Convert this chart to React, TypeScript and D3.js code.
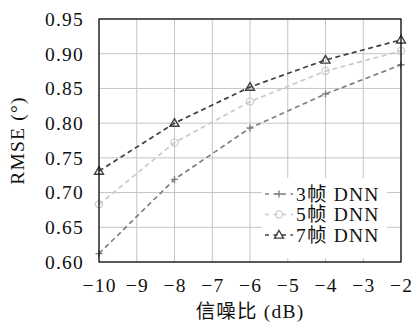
import React from 'react';
import * as d3 from 'd3';

// chart values
const snr = [-10, -8, -6, -4, -2];
const frames3 = [0.612, 0.719, 0.793, 0.842, 0.884];
const frames5 = [0.683, 0.772, 0.831, 0.875, 0.904];
const frames7 = [0.731, 0.800, 0.852, 0.891, 0.920];
const xTicks = [-10, -9, -8, -7, -6, -5, -4, -3, -2];
const yTicks = [0.6, 0.65, 0.7, 0.75, 0.8, 0.85, 0.9, 0.95];
const seriesNames = ['3帧 DNN', '5帧 DNN', '7帧 DNN'];

const serif = '"Liberation Serif", "Noto Sans CJK SC", serif';
const fontSize = 19.5;
const spacing = 1.2;

const series = [
  {name: seriesNames[0], values: frames3, color: '#808080', mark: 'plus'},
  {name: seriesNames[1], values: frames5, color: '#cacaca', mark: 'circle'},
  {name: seriesNames[2], values: frames7, color: '#404040', mark: 'triangle'},
];

function Marker({mark, x, y, color}) {
  if (mark === 'plus') {
    return (
      <path d={`M${x - 3.5},${y}H${x + 3.5}M${x},${y - 3.5}V${y + 3.5}`} stroke={color} strokeWidth={1.4} fill="none" />
    );
  }
  if (mark === 'circle') {
    return <circle cx={x} cy={y} r={3.6} stroke={color} strokeWidth={1.2} fill="none" />;
  }
  const s = 4.5;
  return (
    <path
      d={`M${x},${y - s}L${x + s},${y + s * 0.7}L${x - s},${y + s * 0.7}Z`}
      stroke={color}
      strokeWidth={1.4}
      fill="none"
    />
  );
}

export default function App() {
  const width = 412;
  const height = 327;
  const margin = {top: 19, right: 11, bottom: 65, left: 99};
  const innerW = width - margin.left - margin.right;
  const innerH = height - margin.top - margin.bottom;

  const x = d3.scaleLinear().domain([-10, -2]).range([0, innerW]);
  const y = d3.scaleLinear().domain([0.6, 0.95]).range([innerH, 0]);

  const line = d3
    .line<number>()
    .x((_, i) => x(snr[i]))
    .y((d) => y(d));

  const legendX = 163;
  const legendY = 159;

  return (
    <svg width={width} height={height} style={{position: 'absolute', left: 0, top: 0, background: '#fff'}}>
      <g transform={`translate(${margin.left},${margin.top})`}>
        {/* grid */}
        {xTicks.map((t) => (
          <line key={'gx' + t} x1={x(t)} x2={x(t)} y1={0} y2={innerH} stroke="#c4c4c4" strokeWidth={1} />
        ))}
        {yTicks.map((t) => (
          <line key={'gy' + t} x1={0} x2={innerW} y1={y(t)} y2={y(t)} stroke="#c4c4c4" strokeWidth={1} />
        ))}

        {/* legend background */}
        <rect x={legendX} y={legendY} width={125} height={80} fill="#fff" />

        {/* series */}
        {series.map((s) => (
          <g key={s.name}>
            <path d={line(s.values) || ''} fill="none" stroke={s.color} strokeWidth={1.7} strokeDasharray="5,3.5" />
            {s.values.map((v, i) => (
              <Marker key={i} mark={s.mark} x={x(snr[i])} y={y(v)} color={s.color} />
            ))}
          </g>
        ))}

        {/* frame */}
        <rect x={0} y={0} width={innerW} height={innerH} fill="none" stroke="#000" strokeWidth={1.2} />

        {/* tick labels */}
        {yTicks.map((t) => (
          <text
            key={'ly' + t}
            x={-15}
            y={y(t)}
            dy="0.35em"
            textAnchor="end"
            fontFamily={serif}
            fontSize={fontSize}
            letterSpacing={spacing}
            fill="#111"
          >
            {t.toFixed(2)}
          </text>
        ))}
        {xTicks.map((t) => (
          <text
            key={'lx' + t}
            x={x(t) + spacing / 2}
            y={innerH + 30}
            textAnchor="middle"
            fontFamily={serif}
            fontSize={fontSize}
            letterSpacing={spacing}
            fill="#111"
          >
            {'\u2212' + Math.abs(t)}
          </text>
        ))}

        {/* legend entries */}
        {series.map((s, i) => {
          const cy = legendY + 16 + i * 20.5;
          return (
            <g key={'lg' + s.name}>
              <line
                x1={legendX + 3}
                x2={legendX + 31}
                y1={cy}
                y2={cy}
                stroke={s.color}
                strokeWidth={1.6}
                strokeDasharray="4,4.5"
              />
              <Marker mark={s.mark} x={legendX + 17} y={cy} color={s.color} />
              <text
                x={legendX + 34}
                y={cy}
                dy="0.35em"
                fontFamily={serif}
                fontSize={fontSize}
                letterSpacing={spacing}
                fill="#111"
              >
                {s.name}
              </text>
            </g>
          );
        })}

        {/* axis titles */}
        <text
          x={innerW / 2}
          y={innerH + 56}
          textAnchor="middle"
          fontFamily={serif}
          fontSize={fontSize}
          letterSpacing={spacing}
          fill="#111"
        >
          信噪比 (dB)
        </text>
        <text
          transform={`translate(${-75},${innerH / 2}) rotate(-90)`}
          textAnchor="middle"
          fontFamily={serif}
          fontSize={fontSize}
          letterSpacing={spacing}
          fill="#111"
        >
          RMSE (°)
        </text>
      </g>
    </svg>
  );
}
